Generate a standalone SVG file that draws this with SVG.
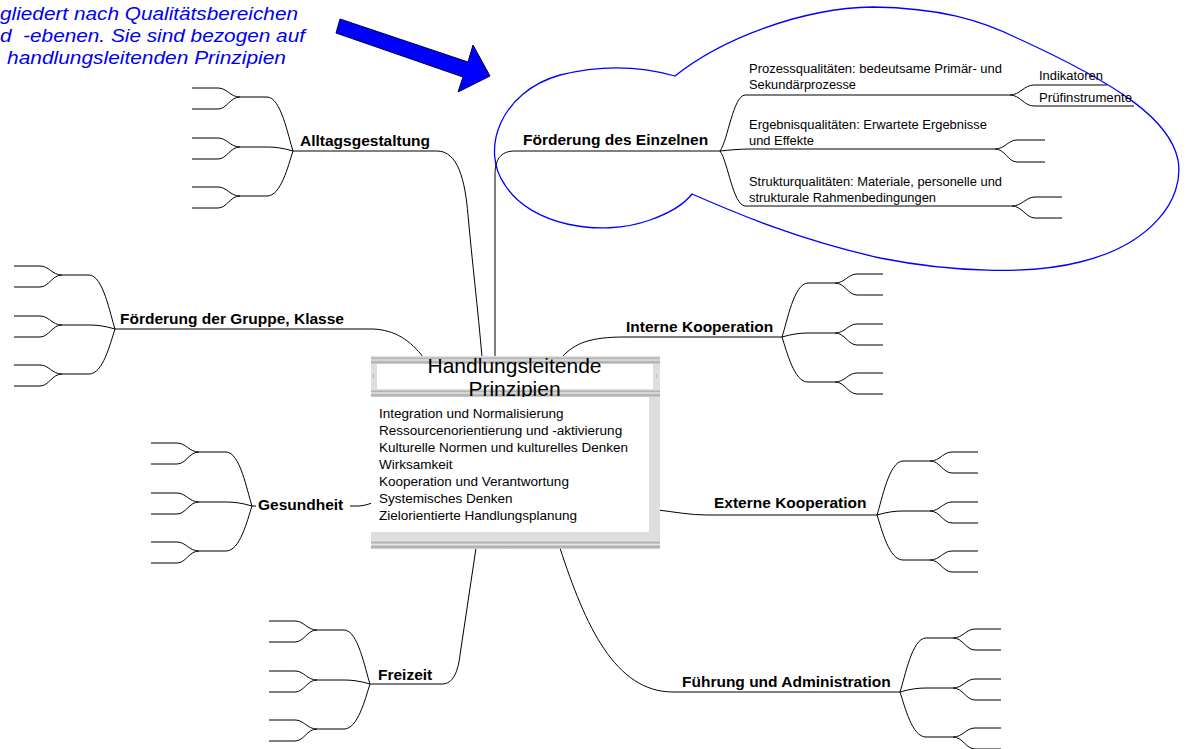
<svg xmlns="http://www.w3.org/2000/svg" xmlns:xlink="http://www.w3.org/1999/xlink" width="1187" height="749" viewBox="0 0 1187 749">
<style>
.c{fill:none;stroke:#000;stroke-width:1}
.cloud{fill:none;stroke:#0000ff;stroke-width:1.3}
text{font-family:"Liberation Sans",Arial,sans-serif;fill:#000}
.lbl{font-weight:bold;font-size:15.5px}
.sm{font-size:12px}
.body{font-size:13.5px}
.title{font-size:21px}
.note{font-style:italic;font-size:18px;fill:#0000ee}
.strip{fill:#dedede}
.bar{fill:url(#barg)}
</style>
<defs>
<linearGradient id="barg" x1="0" y1="0" x2="0" y2="1">
<stop offset="0" stop-color="#ececec"/>
<stop offset="0.3" stop-color="#b0b0b0"/>
<stop offset="0.5" stop-color="#e6e6e6"/>
<stop offset="0.75" stop-color="#a8a8a8"/>
<stop offset="1" stop-color="#d6d6d6"/>
</linearGradient>
<g id="fanL">
<path class="c" d="M0,0 C-5,-15 -12,-54 -26,-54 L-53,-54 M0,0 C-10,-3 -18,-4 -26,-4 L-53,-4 M0,0 C-5,15 -12,45 -26,45 L-53,45"/>
<path class="c" d="M-53,-54 C-63,-54 -66,-63 -75,-63 L-101,-63 M-53,-54 C-63,-54 -66,-42 -75,-42 L-101,-42 M-53,-4 C-63,-4 -66,-13 -75,-13 L-101,-13 M-53,-4 C-63,-4 -66,8 -75,8 L-101,8 M-53,45 C-63,45 -66,36 -75,36 L-101,36 M-53,45 C-63,45 -66,57 -75,57 L-101,57"/>
</g>
</defs>
<rect width="1187" height="749" fill="#fff"/>

<g id="note">
<text class="note" x="0" y="20" textLength="298" lengthAdjust="spacingAndGlyphs">gliedert nach Qualitätsbereichen</text>
<text class="note" x="0" y="42" textLength="305" lengthAdjust="spacingAndGlyphs" xml:space="preserve">d  -ebenen. Sie sind bezogen auf</text>
<text class="note" x="7" y="64" textLength="279" lengthAdjust="spacingAndGlyphs">handlungsleitenden Prinzipien</text>
</g>
<g id="arrow">
<polygon points="340,19 468,62 473,45 490,76 458,92 463,77 336,33" fill="#0000ff" stroke="#000040" stroke-width="1"/>
</g>
<g id="cloud">
<path class="cloud" d="M692,194 C740,215 800,240 880,258 C950,272 1030,275 1080,262 C1150,245 1185,200 1178,160 C1170,120 1120,85 1017,38 C980,20 940,8 873,7 C800,8 720,40 675,76 C640,66 600,65 560,75 C500,92 480,150 505,185 C530,225 600,238 650,220 C670,213 685,203 692,194 Z"/>
</g>

<g id="connectors">
<path class="c" d="M293,151 L437,151 C458,151 465,180 468,215 C472,260 478,310 482,357"/>
<path class="c" d="M495,357 L495,175 C495,160 500,151 515,151 L720,151"/>
<path class="c" d="M115,329 L373,329 C395,330 410,340 424,358"/>
<path class="c" d="M252,506 L358,506 C362,506 366,505 372,503"/>
<path class="c" d="M370,684 L442,684 C453,684 458,672 460,655 L476,548"/>
<path class="c" d="M560,548 C585,625 615,692 673,692 L900,692"/>
<path class="c" d="M658,510 C675,512 690,515 707,515 L877,515"/>
<path class="c" d="M562,357 C575,343 590,337 625,337 L782,337"/>
<use href="#fanL" xlink:href="#fanL" transform="translate(293,151)"/>
<use href="#fanL" xlink:href="#fanL" transform="translate(115,329)"/>
<use href="#fanL" xlink:href="#fanL" transform="translate(252,506)"/>
<use href="#fanL" xlink:href="#fanL" transform="translate(370,684)"/>
<use href="#fanL" xlink:href="#fanL" transform="translate(782,337) scale(-1,1)"/>
<use href="#fanL" xlink:href="#fanL" transform="translate(877,515) scale(-1,1)"/>
<use href="#fanL" xlink:href="#fanL" transform="translate(900,692) scale(-1,1)"/>
<path class="c" d="M720,151 C728,140 733,96 745,95 L1010,95 M720,151 C730,150 740,149 750,149 L995,149 M720,151 C728,162 733,205 745,206 L1012,206"/>
<path class="c" d="M1010,95 C1020,95 1024,85 1034,85 L1107,85 M1010,95 C1020,95 1024,106 1034,106 L1134,106"/>
<path class="c" d="M995,149 C1005,149 1008,140 1017,140 L1045,140 M995,149 C1005,149 1008,162 1017,162 L1045,162"/>
<path class="c" d="M1012,206 C1022,206 1026,197 1035,197 L1062,197 M1012,206 C1022,206 1026,218 1035,218 L1062,218"/>
</g>

<g id="center">
<rect class="bar" x="371" y="356" width="289" height="8"/>
<rect class="strip" x="371" y="364" width="6" height="25"/>
<rect class="strip" x="653" y="364" width="7" height="25"/>
<rect x="377" y="364" width="276" height="25" fill="#fff"/>
<rect x="373" y="374" width="1" height="4" fill="#bbb"/>
<rect x="656" y="374" width="1" height="4" fill="#bbb"/>
<rect class="bar" x="371" y="389" width="289" height="8"/>
<text class="title" x="514.5" y="373" text-anchor="middle">Handlungsleitende</text>
<text class="title" x="514.5" y="396" text-anchor="middle">Prinzipien</text>
<rect x="371" y="397" width="278" height="135" fill="#fff"/>
<rect class="strip" x="649" y="397" width="11" height="143"/>
<rect class="strip" x="371" y="532" width="289" height="8"/>
<rect class="bar" x="371" y="540" width="289" height="9"/>
<text class="body" x="379" y="418">Integration und Normalisierung</text>
<text class="body" x="379" y="435">Ressourcenorientierung und -aktivierung</text>
<text class="body" x="379" y="452">Kulturelle Normen und kulturelles Denken</text>
<text class="body" x="379" y="469">Wirksamkeit</text>
<text class="body" x="379" y="486">Kooperation und Verantwortung</text>
<text class="body" x="379" y="503">Systemisches Denken</text>
<text class="body" x="379" y="520">Zielorientierte Handlungsplanung</text>
</g>

<g id="n-alltag"><text class="lbl" x="300" y="146">Alltagsgestaltung</text></g>
<g id="n-einzeln">
<text class="lbl" x="523" y="145">Förderung des Einzelnen</text>
<text class="sm" x="749" y="73" textLength="253" lengthAdjust="spacingAndGlyphs">Prozessqualitäten: bedeutsame Primär- und</text>
<text class="sm" x="749" y="89" textLength="107" lengthAdjust="spacingAndGlyphs">Sekundärprozesse</text>
<text class="sm" x="1039" y="80" textLength="64" lengthAdjust="spacingAndGlyphs">Indikatoren</text>
<text class="sm" x="1039" y="102" textLength="93" lengthAdjust="spacingAndGlyphs">Prüfinstrumente</text>
<text class="sm" x="749" y="129" textLength="238" lengthAdjust="spacingAndGlyphs">Ergebnisqualitäten: Erwartete Ergebnisse</text>
<text class="sm" x="749" y="145" textLength="65" lengthAdjust="spacingAndGlyphs">und Effekte</text>
<text class="sm" x="749" y="186" textLength="253" lengthAdjust="spacingAndGlyphs">Strukturqualitäten: Materiale, personelle und</text>
<text class="sm" x="749" y="202" textLength="187" lengthAdjust="spacingAndGlyphs">strukturale Rahmenbedingungen</text>
</g>
<g id="n-gruppe"><text class="lbl" x="120" y="324">Förderung der Gruppe, Klasse</text></g>
<g id="n-gesund"><rect x="256" y="496" width="94" height="18" fill="#fff"/><text class="lbl" x="258" y="510">Gesundheit</text></g>
<g id="n-freizeit"><text class="lbl" x="378" y="680">Freizeit</text></g>
<g id="n-intern"><text class="lbl" x="626" y="332">Interne Kooperation</text></g>
<g id="n-extern"><text class="lbl" x="714" y="508">Externe Kooperation</text></g>
<g id="n-fuehrung"><text class="lbl" x="682" y="687">Führung und Administration</text></g>
</svg>
